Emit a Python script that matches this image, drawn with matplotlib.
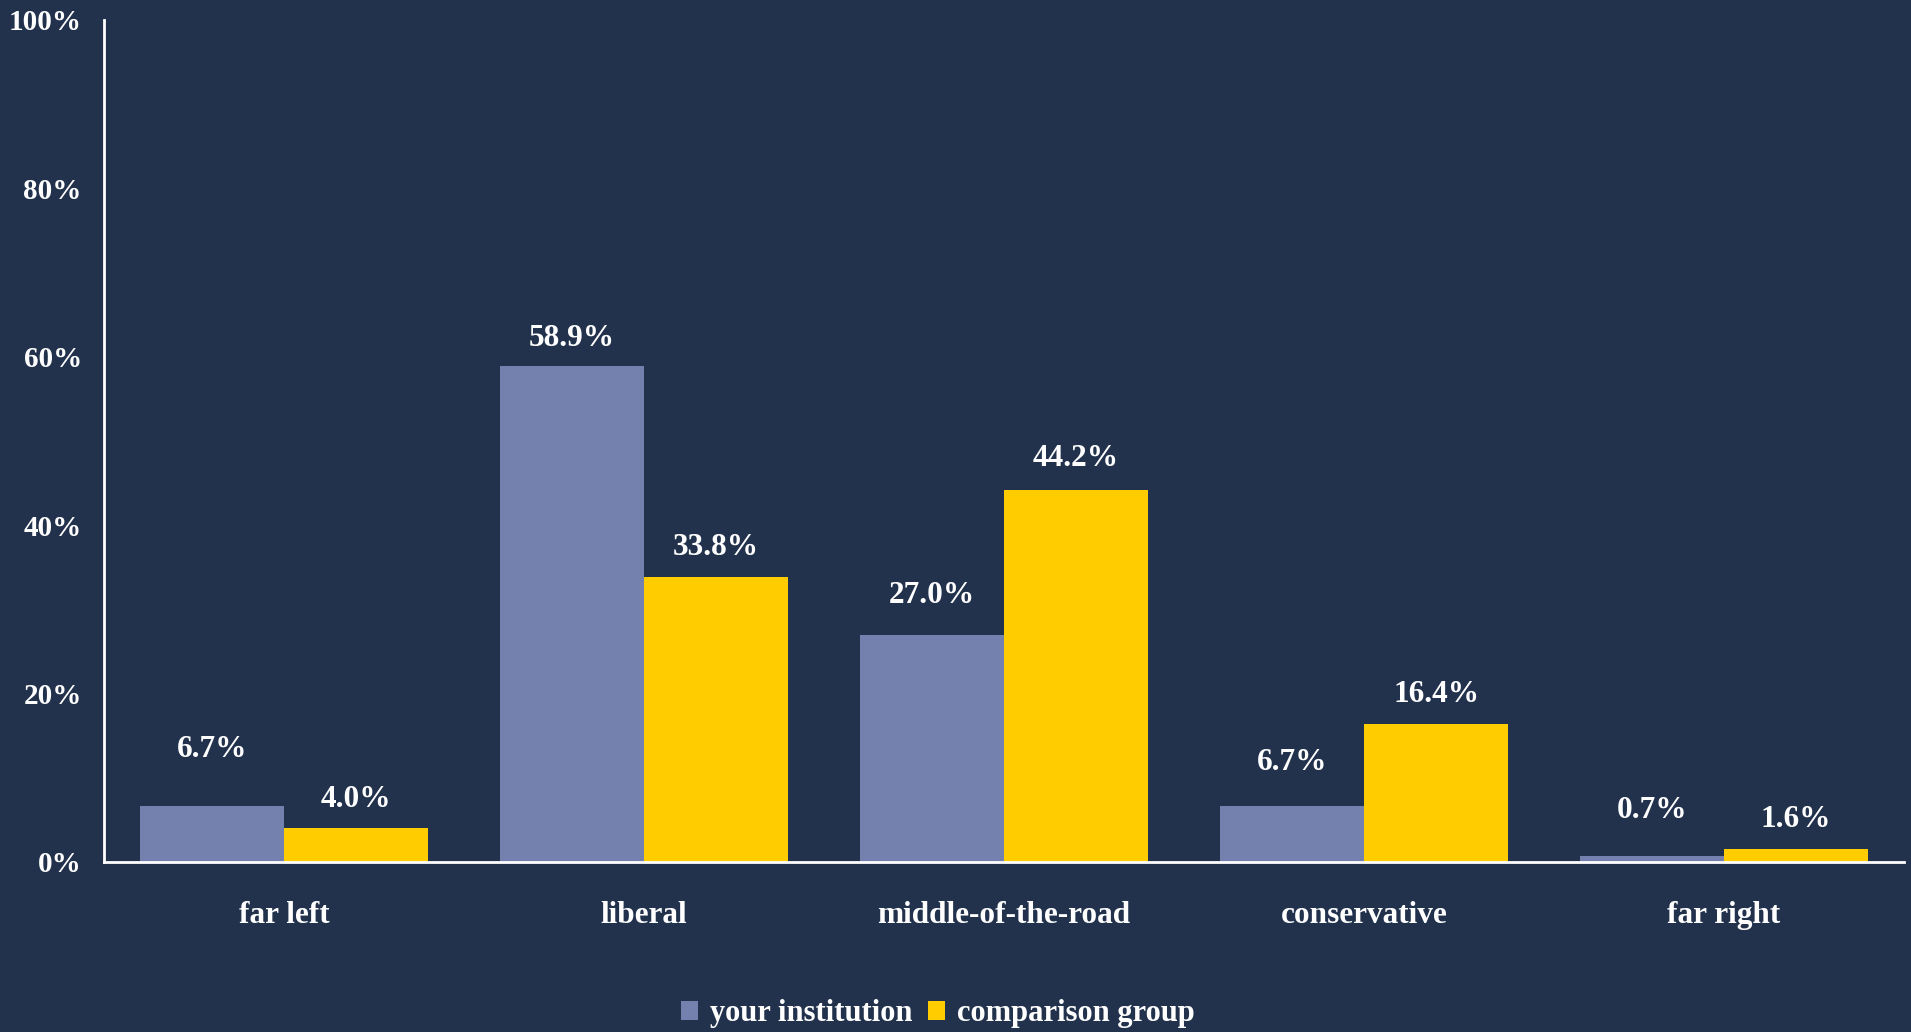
import matplotlib
matplotlib.use('Agg')
import matplotlib.pyplot as plt
import numpy as np

# Data
categories = ['far left', 'liberal', 'middle-of-the-road', 'conservative', 'far right']
your_institution = [6.7, 58.9, 27.0, 6.7, 0.7]
comparison_group = [4.0, 33.8, 44.2, 16.4, 1.6]
series_names = ['your institution', 'comparison group']

# Style
bg = '#22324D'
col_inst = '#7480AD'
col_comp = '#FFCC00'
# label offsets above the bar tops (in % units), as placed in the source chart
pad_inst = [6.7, 3.3, 4.6, 5.1, 5.4]
pad_comp = [3.4, 3.6, 3.7, 3.5, 3.5]

plt.rcParams['font.family'] = ['Liberation Serif', 'DejaVu Serif']
plt.rcParams['font.weight'] = 'bold'

fig = plt.figure(figsize=(19.11, 10.32), dpi=100, facecolor=bg)
ax = fig.add_axes([104 / 1911, 1 - 862 / 1032, (1904 - 104) / 1911, (862 - 20) / 1032])
ax.set_facecolor(bg)

x = np.arange(len(categories))
w = 0.4
b1 = ax.bar(x - w / 2, your_institution, w, color=col_inst, label=series_names[0], zorder=2)
b2 = ax.bar(x + w / 2, comparison_group, w, color=col_comp, label=series_names[1], zorder=2)

for xi, v, p in zip(x - w / 2, your_institution, pad_inst):
    ax.text(xi, v + p, f'{v:.1f}%', ha='center', va='center', color='white',
            fontsize=22.5, fontweight='bold')
for xi, v, p in zip(x + w / 2, comparison_group, pad_comp):
    ax.text(xi, v + p, f'{v:.1f}%', ha='center', va='center', color='white',
            fontsize=22.5, fontweight='bold')

ax.set_xlim(-0.5, len(categories) - 0.5)
ax.set_ylim(0, 100)
ax.set_yticks(np.arange(0, 101, 20))
ax.set_yticklabels([f'{t}%' for t in range(0, 101, 20)])
ax.set_xticks(x)
ax.set_xticklabels(categories)
ax.tick_params(axis='y', length=0, pad=16, labelsize=21, labelcolor='white')
ax.tick_params(axis='x', length=0, pad=28, labelsize=22.5, labelcolor='white')

for s in ['top', 'right']:
    ax.spines[s].set_visible(False)
for s in ['left', 'bottom']:
    ax.spines[s].set_color('white')
    ax.spines[s].set_linewidth(2)

leg = fig.legend(handles=[b1, b2], loc='center', bbox_to_anchor=(938 / 1911, 1 - 1014 / 1032),
                 ncol=2, frameon=False, fontsize=22, handlelength=0.55, handleheight=0.55,
                 handletextpad=0.4, columnspacing=0.5, labelcolor='white')

fig.savefig('out.png', dpi=100, facecolor=bg)
